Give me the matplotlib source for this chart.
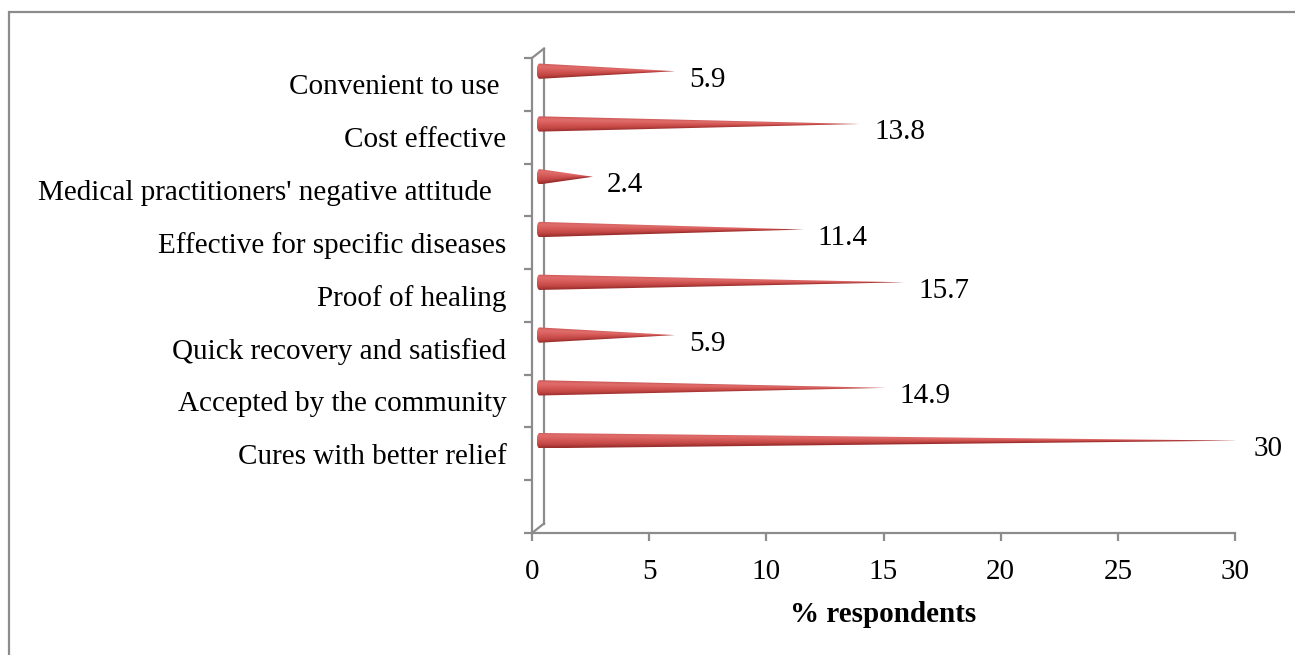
import numpy as np
import matplotlib.pyplot as plt
from matplotlib.path import Path
from matplotlib.patches import PathPatch, Rectangle
from matplotlib.colors import LinearSegmentedColormap

plt.rcParams['font.family'] = ['Liberation Serif', 'DejaVu Serif']

# reasons for choosing traditional medicine, top to bottom
reasons = ['Convenient to use ', 'Cost effective',
           "Medical practitioners' negative attitude  ",
           'Effective for specific diseases', 'Proof of healing',
           'Quick recovery and satisfied', 'Accepted by the community',
           'Cures with better relief']
percent = [5.9, 13.8, 2.4, 11.4, 15.7, 5.9, 14.9, 30]
xticks = [0, 5, 10, 15, 20, 25, 30]

GREY = '#8c8c8c'
FS = 21

# shading across the cone (bottom -> top)
cone_cmap = LinearSegmentedColormap.from_list('cone', [
    (0.0, '#962c2a'), (0.22, '#c04543'), (0.5, '#d45856'),
    (0.78, '#e06d6b'), (0.92, '#d76261'), (1.0, '#c45250')])

fig = plt.figure(figsize=(12.95, 6.55), dpi=100)
ax = fig.add_axes([532 / 1295, 122 / 655, 703 / 1295, 475 / 655])

nslot = len(reasons) + 1
centers = [nslot - 0.5 - i for i in range(len(reasons))]
ax.set_xlim(0, 30)
ax.set_ylim(0, nslot)

# depth shift of the 3-D bars and of the back wall
bdx, bdy = 0.2, 0.25
wdx, wdy = 0.512, 0.18
hh = 0.145   # half height of a cone base
ew = 0.12    # half width of the base ellipse


def draw_cone(yc, val):
    x0 = bdx + ew
    tip = val + bdx
    yc = yc + bdy
    th = np.linspace(np.pi / 2, 3 * np.pi / 2, 30)
    verts = [(x0 + ew * np.cos(t), yc + hh * np.sin(t)) for t in th]
    verts += [(tip, yc), verts[0]]
    codes = [Path.MOVETO] + [Path.LINETO] * (len(verts) - 2) + [Path.CLOSEPOLY]
    patch = PathPatch(Path(verts, codes), fc='none', ec='none')
    ax.add_patch(patch)

    xs = np.linspace(x0 - ew, tip, 600)
    ys = np.linspace(yc - hh, yc + hh, 80)
    X, Y = np.meshgrid(xs, ys)
    half = hh * np.clip((tip - X) / (tip - x0), 1e-3, 1)
    t = np.clip((Y - yc) / half, -1, 1)
    im = ax.imshow((t + 1) / 2, cmap=cone_cmap, vmin=0, vmax=1, origin='lower',
                   extent=(x0 - ew, tip, yc - hh, yc + hh), aspect='auto',
                   interpolation='bilinear', zorder=3)
    im.set_clip_path(patch)


for yc, v in zip(centers, percent):
    draw_cone(yc, v)
    ax.text(v + 0.8, yc + 0.09, f'{v:g}', fontsize=FS, va='center', ha='left')

# back wall of the 3-D frame
wall = dict(color=GREY, lw=1.6, clip_on=False, zorder=2)
ax.plot([wdx, wdx], [wdy, nslot + wdy], **wall)
ax.plot([0, wdx], [0, wdy], **wall)
ax.plot([0, wdx], [nslot, nslot + wdy], **wall)

for s in ['top', 'right']:
    ax.spines[s].set_visible(False)
for s in ['left', 'bottom']:
    ax.spines[s].set_color(GREY)
    ax.spines[s].set_linewidth(1.6)

ax.set_xticks(xticks)
ax.set_xticklabels([str(x) for x in xticks], fontsize=FS)
ax.set_yticks(range(nslot + 1))
ax.set_yticklabels([])
ax.set_yticks(centers, reasons, minor=True, fontsize=FS)
ax.tick_params(axis='both', which='major', color=GREY, width=1.6, length=6)
ax.tick_params(axis='x', pad=12.5)
ax.tick_params(axis='y', which='minor', length=0, pad=18.5)
ax.set_xlabel('% respondents', fontsize=FS, fontweight='bold', labelpad=12)

# chart frame (only top and left edges fall inside the image)
fig.patches.append(Rectangle((8.5 / 1295, -0.1), 2, 643.5 / 655 + 0.1,
                             transform=fig.transFigure, fill=False,
                             ec=GREY, lw=1.6))

fig.savefig('out.png', dpi=100)
